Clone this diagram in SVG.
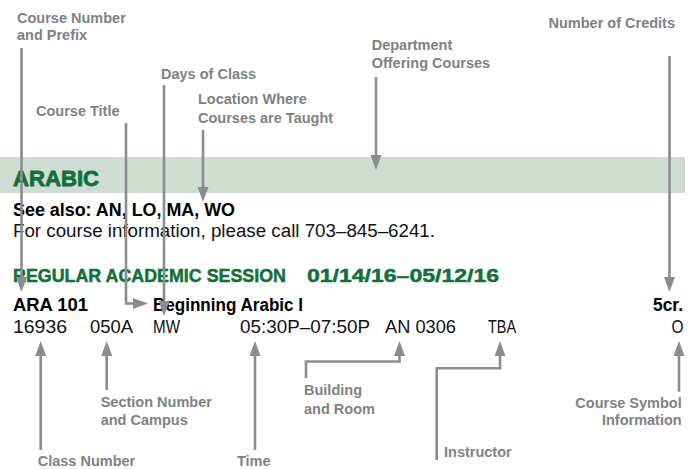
<svg xmlns="http://www.w3.org/2000/svg" width="691" height="469" viewBox="0 0 691 469">
<style>
.lbl{font-family:"Liberation Sans",Arial,sans-serif;font-weight:bold;font-size:14.5px;fill:#808184}
.end{text-anchor:end}
.grn{font-family:"Liberation Sans",Arial,sans-serif;font-weight:bold;fill:#13703b;stroke:#13703b;stroke-linejoin:round}
.bk{font-family:"Liberation Sans",Arial,sans-serif;font-weight:bold;font-size:17.5px;fill:#000}
.rg{font-family:"Liberation Sans",Arial,sans-serif;font-size:18px;fill:#111}
.con{fill:none;stroke:#8b8c8f;stroke-width:2.6;marker-end:url(#ah)}
</style>
<defs>
<marker id="ah" markerUnits="userSpaceOnUse" markerWidth="15" markerHeight="11" refX="1" refY="5.5" orient="auto">
<path d="M0,0 L15,5.5 L0,11 z" fill="#8b8c8f"/>
</marker>
</defs>
<rect width="691" height="469" fill="#fff"/>
<g id="band"><rect x="0" y="157" width="685" height="36" fill="#cfdcd2"/></g>
<g id="listing">
<text class="grn" x="13" y="186" font-size="22" stroke-width="0.8" textLength="86" lengthAdjust="spacingAndGlyphs">ARABIC</text>
<text class="bk" x="13" y="215.5" font-size="17" textLength="222" lengthAdjust="spacingAndGlyphs">See also: AN, LO, MA, WO</text>
<text class="rg" x="13" y="236.5" font-size="17.5" textLength="422" lengthAdjust="spacingAndGlyphs">For course information, please call 703–845–6241.</text>
<text class="grn" x="13" y="281.5" font-size="18" stroke-width="0.5" textLength="273" lengthAdjust="spacingAndGlyphs">REGULAR ACADEMIC SESSION</text>
<text class="grn" x="307" y="281.5" font-size="18" stroke-width="0.5" textLength="192" lengthAdjust="spacingAndGlyphs">01/14/16–05/12/16</text>
<text class="bk" x="13" y="310.5" textLength="75" lengthAdjust="spacingAndGlyphs">ARA 101</text>
<text class="bk" x="153" y="310.5" textLength="150" lengthAdjust="spacingAndGlyphs">Beginning Arabic I</text>
<text class="bk" x="653" y="310.5" textLength="30" lengthAdjust="spacingAndGlyphs">5cr.</text>
<text class="rg" x="13" y="333" textLength="54" lengthAdjust="spacingAndGlyphs">16936</text>
<text class="rg" x="90" y="333" textLength="43" lengthAdjust="spacingAndGlyphs">050A</text>
<text class="rg" x="153" y="333" textLength="27" lengthAdjust="spacingAndGlyphs">MW</text>
<text class="rg" x="240" y="333" textLength="130" lengthAdjust="spacingAndGlyphs">05:30P–07:50P</text>
<text class="rg" x="385" y="333" textLength="71" lengthAdjust="spacingAndGlyphs">AN 0306</text>
<text class="rg" x="488" y="333" textLength="28" lengthAdjust="spacingAndGlyphs">TBA</text>
<text class="rg" x="671.5" y="333" textLength="12" lengthAdjust="spacingAndGlyphs">O</text>
</g>
<g id="label-course-number"><text class="lbl" x="17" y="23">Course Number</text><text class="lbl" x="17" y="40">and Prefix</text></g>
<g id="label-days"><text class="lbl" x="161" y="78.7">Days of Class</text></g>
<g id="label-title"><text class="lbl" x="36" y="116.4">Course Title</text></g>
<g id="label-location"><text class="lbl" x="198" y="104.4">Location Where</text><text class="lbl" x="198" y="123">Courses are Taught</text></g>
<g id="label-department"><text class="lbl" x="371.7" y="50.4">Department</text><text class="lbl" x="371.7" y="67.7">Offering Courses</text></g>
<g id="label-credits"><text class="lbl end" x="675" y="28">Number of Credits</text></g>
<g id="label-section"><text class="lbl" x="100.7" y="407">Section Number</text><text class="lbl" x="100.7" y="424.7">and Campus</text></g>
<g id="label-building"><text class="lbl" x="304" y="395.4">Building</text><text class="lbl" x="304" y="414">and Room</text></g>
<g id="label-symbol"><text class="lbl end" x="681.7" y="407.7">Course Symbol</text><text class="lbl end" x="681.7" y="425.4">Information</text></g>
<g id="label-class"><text class="lbl" x="37.7" y="466">Class Number</text></g>
<g id="label-time"><text class="lbl" x="237" y="466">Time</text></g>
<g id="label-instructor"><text class="lbl" x="444" y="457">Instructor</text></g>
<g id="connectors">
<path class="con" d="M21.5,48 V278"/>
<path class="con" d="M126,123 V303.5 H134"/>
<path class="con" d="M164,85 V302"/>
<path class="con" d="M203,130 V188"/>
<path class="con" d="M376,77 V156"/>
<path class="con" d="M669.5,56 V278"/>
<path class="con" d="M40.7,450 V355"/>
<path class="con" d="M106.7,390 V355"/>
<path class="con" d="M255,450 V355"/>
<path class="con" d="M306,378 V361.5 H399.5 V355"/>
<path class="con" d="M436.7,460 V368.3 H500 V355"/>
<path class="con" d="M679,391.7 V355"/>
</g>
</svg>
